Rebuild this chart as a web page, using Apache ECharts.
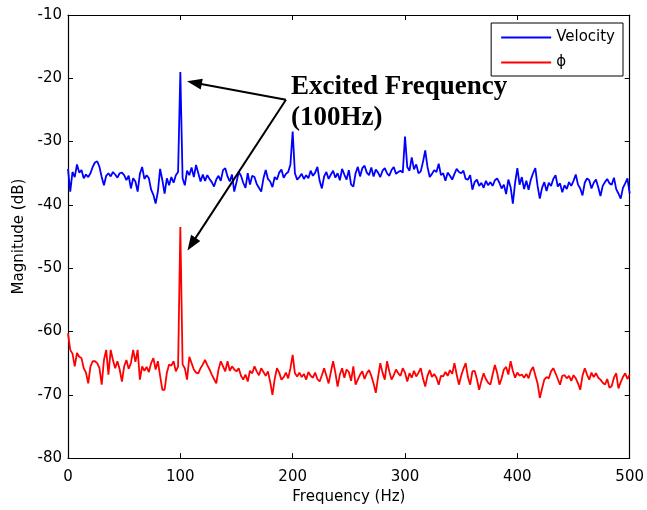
<!DOCTYPE html>
<html>
<head>
<meta charset="utf-8">
<script src="https://cdn.jsdelivr.net/npm/echarts@6/dist/echarts.min.js"></script>
<style>html,body{margin:0;padding:0;background:#fff;}#c{width:647px;height:510px;}</style>
</head>
<body>
<div id="c"></div>
<script>
// Frequency grid (Hz), 2 Hz resolution
const freqStep = 2;
const freqs = [];
for (let f = 0; f <= 500; f += freqStep) freqs.push(f);

const seriesNames = ['Velocity', 'ϕ'];
const xTicks = [0, 100, 200, 300, 400, 500];
const yTicks = [-80, -70, -60, -50, -40, -30, -20, -10];

// Velocity magnitude (dB)
const velocity = [
-34.3,-37.9,-34.8,-35.6,-33.6,-34.9,-34.5,-35.8,-35.2,-35.6,
-35.0,-34.0,-33.3,-33.1,-34.0,-35.6,-36.9,-35.4,-35.0,-35.5,
-34.8,-35.2,-35.7,-35.0,-34.9,-35.3,-36.1,-35.4,-37.4,-35.8,
-36.3,-37.9,-35.1,-34.0,-35.9,-35.3,-35.8,-37.6,-38.4,-39.8,
-37.9,-34.3,-36.1,-38.2,-35.8,-36.9,-35.6,-36.5,-35.3,-34.8,
-19.0,-35.8,-36.9,-34.6,-35.3,-34.1,-35.6,-33.7,-35.0,-36.3,
-35.2,-36.2,-35.3,-35.9,-36.4,-37.1,-36.0,-35.4,-36.2,-34.5,
-34.2,-35.5,-36.3,-35.2,-37.9,-36.4,-34.8,-35.4,-36.5,-37.3,
-35.0,-36.8,-35.4,-35.6,-36.7,-37.3,-37.9,-35.8,-34.5,-35.9,
-36.3,-37.2,-35.6,-36.0,-34.9,-34.4,-35.7,-35.1,-34.8,-33.6,
-28.4,-35.0,-36.0,-35.6,-35.1,-35.9,-35.3,-35.8,-34.6,-35.4,
-34.9,-34.0,-36.2,-37.4,-35.5,-34.8,-35.9,-35.2,-34.6,-35.7,
-35.0,-36.1,-34.3,-35.2,-36.0,-34.5,-36.8,-37.1,-35.0,-34.0,
-35.5,-34.2,-33.8,-34.9,-35.3,-34.1,-35.5,-34.4,-34.9,-35.6,
-34.6,-34.2,-35.0,-35.4,-34.5,-34.0,-35.1,-34.8,-34.6,-34.9,
-29.2,-34.0,-34.6,-32.5,-34.4,-33.6,-35.0,-34.7,-33.2,-31.4,
-34.0,-35.6,-35.1,-34.5,-34.8,-33.5,-35.3,-35.0,-36.2,-34.9,
-35.4,-36.0,-35.1,-34.3,-34.8,-35.0,-34.6,-35.9,-36.0,-35.3,
-37.6,-36.4,-36.0,-37.0,-36.5,-37.3,-36.2,-36.9,-36.4,-37.0,
-36.1,-35.8,-36.5,-37.4,-36.8,-38.3,-36.0,-37.2,-39.8,-36.5,
-34.2,-36.8,-35.6,-37.5,-36.2,-37.6,-36.0,-35.0,-34.2,-37.0,
-39.0,-37.3,-36.4,-37.8,-36.5,-37.0,-35.9,-35.3,-37.1,-36.6,
-38.0,-36.9,-37.5,-36.4,-37.0,-36.2,-35.2,-36.8,-37.4,-38.5,
-36.5,-35.8,-36.1,-37.4,-36.5,-36.0,-37.2,-38.6,-37.0,-36.4,
-35.9,-36.6,-36.8,-35.7,-37.5,-38.2,-39.0,-37.3,-36.6,-35.8,
-38.2
];

// phi magnitude (dB)
const phi = [
-60.3,-62.9,-63.5,-65.5,-63.4,-64.0,-64.2,-65.8,-66.5,-68.2,
-65.5,-64.7,-64.7,-65.0,-65.8,-68.4,-64.5,-62.9,-66.8,-62.9,
-64.5,-65.8,-64.7,-66.0,-67.9,-65.5,-64.5,-65.9,-65.0,-62.9,
-64.8,-62.9,-67.6,-65.5,-66.2,-65.6,-66.4,-65.0,-64.2,-66.0,
-64.7,-67.0,-69.2,-69.2,-66.5,-65.2,-65.4,-64.7,-66.3,-65.5,
-43.5,-65.2,-65.8,-67.6,-64.0,-65.0,-66.0,-66.5,-66.6,-65.8,
-65.2,-64.5,-65.3,-66.0,-66.8,-67.5,-68.2,-66.0,-64.7,-65.5,
-66.3,-64.7,-66.2,-65.5,-66.0,-66.3,-65.8,-67.0,-67.6,-66.8,
-67.9,-66.2,-66.6,-65.5,-66.3,-66.9,-65.8,-66.4,-67.0,-66.3,
-68.0,-70.0,-67.5,-65.8,-66.5,-67.6,-67.2,-66.5,-67.4,-65.8,
-63.7,-66.6,-67.1,-66.5,-67.2,-66.7,-67.6,-66.4,-67.0,-67.3,
-66.5,-67.5,-67.9,-66.9,-65.8,-67.0,-68.2,-66.4,-64.7,-66.5,
-68.7,-66.8,-65.8,-67.3,-66.0,-66.4,-67.8,-65.5,-68.4,-67.6,
-66.8,-66.3,-67.5,-66.6,-66.1,-67.0,-68.2,-69.7,-67.2,-65.0,
-66.5,-67.6,-64.7,-66.3,-67.6,-66.9,-66.0,-66.6,-67.0,-65.8,
-66.5,-67.9,-66.6,-67.3,-66.2,-67.1,-66.5,-65.8,-67.4,-68.7,
-67.0,-66.1,-67.2,-66.7,-67.3,-68.4,-67.0,-67.1,-66.4,-67.0,
-66.1,-66.7,-65.0,-66.8,-68.4,-67.0,-65.9,-65.0,-67.2,-68.4,
-66.3,-66.2,-67.5,-69.2,-67.8,-66.6,-67.5,-68.1,-68.4,-66.8,
-65.3,-66.5,-68.4,-67.4,-66.0,-65.6,-66.8,-64.7,-66.2,-67.3,
-66.5,-67.0,-66.8,-67.3,-66.7,-67.4,-66.2,-65.6,-66.9,-68.2,
-70.5,-69.0,-67.6,-67.2,-67.4,-66.3,-65.8,-66.6,-67.5,-68.4,
-67.0,-66.9,-67.4,-67.0,-67.8,-66.9,-67.4,-68.2,-69.2,-67.0,
-65.8,-66.8,-67.6,-66.5,-67.2,-66.6,-67.3,-67.6,-68.1,-68.4,
-67.5,-68.9,-68.6,-67.3,-66.6,-69.0,-68.0,-67.2,-66.6,-67.5,
-66.8
];

// Annotation anchor points (data coordinates)
const arrowStart = [194, -23.4];
const arrowTipVel = [112.5, -20.7];
const arrowTipPhi = [110, -46.2];
const annotationText = ['Excited Frequency', '(100Hz)'];

const chart = echarts.init(document.getElementById('c'), null, {renderer: 'canvas'});
const font = '"DejaVu Sans", Verdana, sans-serif';
const axisCommon = {
  axisLine: {show: true, onZero: false, lineStyle: {color: '#000', width: 1.2}},
  axisTick: {show: true, inside: true, length: 5, lineStyle: {color: '#000', width: 1}},
  splitLine: {show: false}
};
const pair = arr => freqs.map((f, i) => [f, arr[i]]);

chart.setOption({
  animation: false,
  backgroundColor: '#fff',
  grid: {left: 68, right: 15, top: 15, bottom: 48, containLabel: false},
  legend: {
    data: [
      {name: seriesNames[0], icon: 'rect'},
      {name: seriesNames[1], icon: 'rect'}
    ],
    orient: 'vertical',
    right: 24, top: 23,
    itemWidth: 50, itemHeight: 2, itemGap: 10,
    padding: [7, 8, 6, 10],
    borderColor: '#000', borderWidth: 1, backgroundColor: '#fff',
    textStyle: {fontFamily: font, fontSize: 15, color: '#000'}
  },
  xAxis: [
    Object.assign({}, axisCommon, {
      type: 'value', min: 0, max: 500, interval: 100, position: 'bottom',
      name: 'Frequency (Hz)', nameLocation: 'middle', nameGap: 30,
      nameTextStyle: {fontFamily: font, fontSize: 15, color: '#000'},
      axisLabel: {fontFamily: font, fontSize: 15, color: '#000', margin: 12,
        formatter: v => xTicks.includes(v) ? String(v) : ''}
    }),
    Object.assign({}, axisCommon, {
      type: 'value', min: 0, max: 500, interval: 100, position: 'top',
      axisLabel: {show: false}
    })
  ],
  yAxis: [
    Object.assign({}, axisCommon, {
      type: 'value', min: -80, max: -10, interval: 10, position: 'left',
      name: 'Magnitude (dB)', nameLocation: 'middle', nameGap: 37,
      nameTextStyle: {fontFamily: font, fontSize: 15, color: '#000'},
      axisLabel: {fontFamily: font, fontSize: 15, color: '#000', margin: 6,
        padding: [5, 0, 0, 0],
        formatter: v => yTicks.includes(v) ? String(v) : ''}
    }),
    Object.assign({}, axisCommon, {
      type: 'value', min: -80, max: -10, interval: 10, position: 'right',
      axisLabel: {show: false}
    })
  ],
  series: [
    {
      name: seriesNames[0], type: 'line', data: pair(velocity),
      showSymbol: false, color: '#0000ff',
      lineStyle: {width: 1.8, color: '#0000ff'},
      markLine: {
        silent: true, symbol: ['none', 'triangle'], symbolSize: [11, 15],
        label: {show: false},
        lineStyle: {color: '#000', width: 2, type: 'solid'},
        itemStyle: {color: '#000'},
        data: [
          [{coord: arrowStart}, {coord: arrowTipVel}],
          [{coord: arrowStart}, {coord: arrowTipPhi}]
        ]
      }
    },
    {
      name: seriesNames[1], type: 'line', data: pair(phi),
      showSymbol: false, color: '#ff0000',
      lineStyle: {width: 1.8, color: '#ff0000'}
    }
  ]
});

const p = chart.convertToPixel({xAxisIndex: 0, yAxisIndex: 0}, arrowStart);
chart.setOption({
  graphic: [
    {type: 'text', left: p[0] + 5, top: p[1] - 26,
      style: {text: annotationText[0], font: 'bold 27px "Liberation Serif", "Times New Roman", serif', fill: '#000'}},
    {type: 'text', left: p[0] + 5, top: p[1] + 5,
      style: {text: annotationText[1], font: 'bold 27px "Liberation Serif", "Times New Roman", serif', fill: '#000'}}
  ]
});
</script>
</body>
</html>
